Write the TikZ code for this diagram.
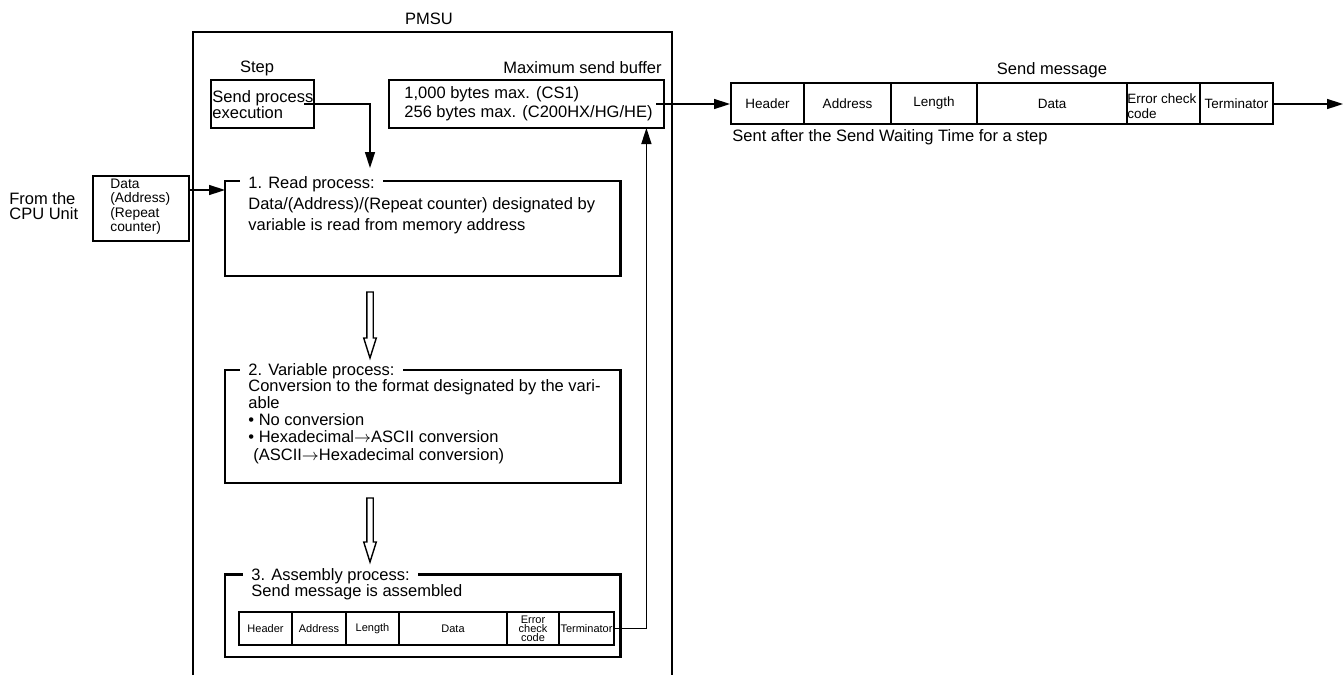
\documentclass[tikz,border=0pt]{standalone}
\usepackage{fontspec}
\setmainfont{Liberation Sans}
\usetikzlibrary{arrows.meta,positioning,calc,fit}

\begin{document}
\begin{tikzpicture}[
  x=0.5pt, y=-0.5pt,
  frame/.style={draw, line width=1.2pt, inner sep=0pt},
  cell/.style={draw, line width=1pt, inner sep=0pt},
  lowtxt/.style={inner sep=0pt, align=center, font=\fontsize{5.5}{4.6}\selectfont},
  toptxt/.style={inner sep=0pt, align=left, font=\fontsize{6.75}{7.4}\selectfont},
  main/.style={inner sep=0pt, align=left, font=\fontsize{8.25}{8.6}\selectfont},
  ttl/.style={main, fill=white, inner xsep=4pt, inner ysep=1pt, anchor=west},
  arr/.style={-{Triangle[length=8pt,width=5pt]}, line width=0.75pt},
  hollow/.style={draw, line width=0.7pt, fill=white, line join=miter},
]
  \useasboundingbox (0,0) rectangle (1343,675);

  % PMSU frame, open at the bottom
  \draw[line width=1pt] (193,675) |- (672,32) -- (672,675);
  \node[main] (pmsu) at (429,19) {PMSU};

  % Step and send buffer
  \node[main] (steplbl) at (257,68) {Step};
  \node[frame, fit={(211,80) (314,128)}] (stepbox) {};
  \node[main, anchor=west, font=\fontsize{8.25}{8}\selectfont] (steptxt) at (212,105) {Send process\\execution};

  \node[main, anchor=east] (buflbl) at (662,68) {Maximum send buffer};
  \node[frame, fit={(389,80) (664,128)}] (bufbox) {};
  \node[main, anchor=west, font=\fontsize{8.25}{9.5}\selectfont] (buftxt) at (404,103.5) {1,000 bytes max. (CS1)\\256 bytes max. (C200HX/HG/HE)};

  % Input from the CPU Unit
  \node[main, anchor=west, font=\fontsize{8.25}{7.5}\selectfont] (cpulbl) at (9,206.5) {From the\\CPU Unit};
  \node[frame, fit={(93,176) (189,241)}] (databox) {};
  \node[main, anchor=west, font=\fontsize{6.9}{7.2}\selectfont] (datatxt) at (110,206.8) {Data\\(Address)\\(Repeat\\counter)};

  % 1. Read process
  \node[frame, fit={(225,181) (620.5,276)}] (readbox) {};
  \node[ttl] (readttl) at (240,184) {1. Read process:};
  \node[main, anchor=west, font=\fontsize{8.25}{10.5}\selectfont] (readtxt) at (248,215.5) {Data/(Address)/(Repeat counter) designated by\\variable is read from memory address};

  % 2. Variable process
  \node[frame, fit={(225,370) (620.5,483)}] (varbox) {};
  \node[ttl] (varttl) at (240,371) {2. Variable process:};
  \node[main, anchor=west] (vartxt) at (248,421.4) {Conversion to the format designated by the vari-\\able\\\textbullet\ No conversion\\\textbullet\ Hexadecimal$\rightarrow$ASCII conversion\\\hspace{2.5pt}(ASCII$\rightarrow$Hexadecimal conversion)};

  % 3. Assembly process
  \node[frame, fit={(225,574.6) (620.5,657)}] (asmbox) {};
  \node[ttl] (asmttl) at (243,576) {3. Assembly process:};
  \node[main, anchor=west] (asmtxt) at (251,592) {Send message is assembled};

  \foreach \l/\r/\t [count=\i] in {239/292/Header, 292/346/Address, 346/399/Length,
      399/507/Data, 507/559/{Error\\check\\code}, 559/614/Terminator}
  {
    \node[cell, fit={(\l,612) (\r,645)}] (lc\i) {};
    \node[lowtxt] at (lc\i.center) {\t};
  }

  % Send message
  \node[main] (msglbl) at (1052,70) {Send message};
  \foreach \l/\r/\t [count=\i] in {731/804/Header, 804/891/Address, 891/977/Length,
      977/1127/Data, 1200/1273/Terminator}
  {
    \node[cell, fit={(\l,83) (\r,124)}] (mc\i) {};
    \node[toptxt] at (mc\i.center) {\t};
  }
  \node[cell, fit={(1127,83) (1200,124)}] (mcerr) {};
  \node[toptxt, anchor=west] at ([xshift=0.5pt,yshift=-1.5pt]mcerr.west) {Error check\\code};
  \node[main, anchor=west] (sentlbl) at (732,137) {Sent after the Send Waiting Time for a step};

  % Connectors
  \coordinate (readin) at (370,168);
  \coordinate (datain) at (225,190);
  \coordinate (bufret) at (646.4,128);
  \coordinate (msgout) at (1343,103.5);
  \draw[arr] ([xshift=-5.5pt]stepbox.east) -| (readin);
  \draw[arr] (databox.east |- datain) -- (datain);
  \draw[arr] (lc6.east) -| (bufret);
  \draw[arr] ([xshift=-4.5pt]bufbox.east) -- (mc1.west |- bufbox.east);
  \draw[arr] (mc5.east |- bufbox.east) -- (msgout |- bufbox.east);

  % Hollow arrows between the process boxes
  \coordinate (h1a) at (370,292);
  \coordinate (h1b) at (370,358);
  \coordinate (h2a) at (370,498);
  \coordinate (h2b) at (370,562);
  \foreach \a/\b in {h1a/h1b, h2a/h2b}
    \draw[hollow] ($(\a)+(-3.2,0)$) -- ($(\b)+(-3.2,-20)$) -- ($(\b)+(-6.3,-20)$) -- (\b)
      -- ($(\b)+(6.3,-20)$) -- ($(\b)+(3.2,-20)$) -- ($(\a)+(3.2,0)$) -- cycle;

\end{tikzpicture}
\end{document}
